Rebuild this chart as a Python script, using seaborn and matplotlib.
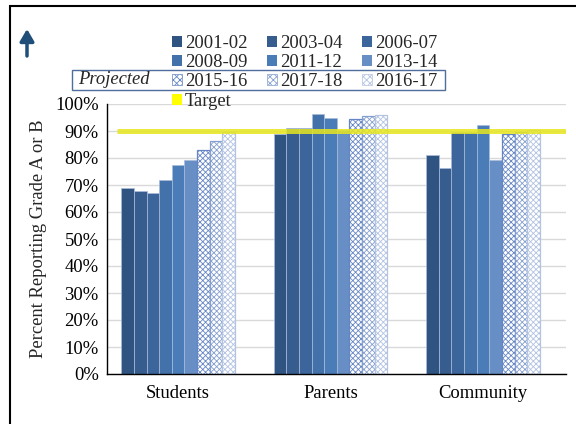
import matplotlib
matplotlib.use("Agg")
import matplotlib.pyplot as plt
from matplotlib.patches import Patch, Rectangle, FancyArrowPatch
from matplotlib.ticker import FuncFormatter, FixedLocator
import seaborn as sns
import pandas as pd

# Survey groups and school years
groups = ["Students", "Parents", "Community"]
years = ["2001-02", "2003-04", "2006-07", "2008-09", "2011-12", "2013-14",
         "2015-16", "2017-18", "2016-17"]
projected_years = ["2015-16", "2017-18", "2016-17"]

# Share reporting grade A or B, one list per year (Students, Parents, Community)
values = {
    "2001-02": [0.688, 0.888, 0.810],
    "2003-04": [0.677, 0.910, 0.762],
    "2006-07": [0.671, 0.910, 0.897],
    "2008-09": [0.719, 0.962, 0.897],
    "2011-12": [0.774, 0.949, 0.921],
    "2013-14": [0.791, 0.903, 0.793],
    "2015-16": [0.828, 0.946, 0.889],
    "2017-18": [0.862, 0.954, 0.897],
    "2016-17": [0.895, 0.959, 0.905],
}
target = 0.90

solid_colors = ["#2F5481", "#375D8F", "#3C659C", "#4371AA", "#4A7CB8", "#678EC5"]
projected_edges = ["#6585C4", "#859FCF", "#B3C3E2"]

rows = [(g, y, values[y][i]) for y in years for i, g in enumerate(groups)]
df = pd.DataFrame(rows, columns=["group", "year", "value"])

sns.set_theme(style="white")
plt.rcParams["font.family"] = ["Liberation Serif", "DejaVu Serif"]
plt.rcParams["hatch.linewidth"] = 0.6
FS = 13.4

fig = plt.figure(figsize=(5.76, 4.24), dpi=100)
ax = fig.add_axes([107 / 576, 1 - 374 / 424, (566 - 107) / 576, (374 - 104) / 424])

palette = solid_colors + ["white"] * 3
sns.barplot(data=df, x="group", y="value", hue="year", order=groups,
            hue_order=years, palette=palette, width=0.745, dodge=True,
            saturation=1, legend=False, ax=ax, zorder=2)

# Style the bars: thin light separators, checkered fill for projections
for k, cont in enumerate(ax.containers):
    for bar in cont:
        if k < 6:
            bar.set_edgecolor("#A9BCDB")
            bar.set_linewidth(0.5)
        else:
            bar.set_facecolor("white")
            bar.set_edgecolor(projected_edges[k - 6])
            bar.set_hatch("xxxxxx")
            bar.set_linewidth(0.9)

# Target line
ax.plot([-0.40, 2.544], [target, target], color="#E6E61E", lw=3.6,
        alpha=0.85, zorder=4, solid_capstyle="butt")

ax.set_xlim(-0.466, 2.544)
ax.set_ylim(0, 1.0)
ax.set_yticks([i / 10 for i in range(11)])
ax.yaxis.set_major_formatter(FuncFormatter(lambda v, _: f"{v:.0%}"))
ax.grid(axis="y", color="#D9D9D9", lw=1, zorder=0)
ax.set_axisbelow(True)
ax.tick_params(axis="y", length=0, labelsize=FS, pad=6, colors="black")
ax.tick_params(axis="x", which="major", length=0, labelsize=FS, pad=8,
               colors="black")
ax.xaxis.set_minor_locator(FixedLocator([-0.466, 0.534, 1.536, 2.544]))
ax.tick_params(axis="x", which="minor", length=6, width=1, color="black",
               direction="out")
ax.set_xlabel("")
ax.set_ylabel("Percent Reporting Grade A or B", fontsize=FS, labelpad=6)
for side in ["top", "right"]:
    ax.spines[side].set_visible(False)
for side in ["left", "bottom"]:
    ax.spines[side].set_color("black")
    ax.spines[side].set_linewidth(1)

# Legend
handles = []
for k, y in enumerate(years):
    if k < 6:
        handles.append(Patch(facecolor=solid_colors[k], edgecolor="none"))
    else:
        handles.append(Patch(facecolor="white", edgecolor=projected_edges[k - 6],
                             hatch="xxxxx", lw=0.5))
handles.append(Patch(facecolor="#FFFF00", edgecolor="none"))
labels = years + ["Target"]
# order entries so they read across rows in three columns
order = [0, 3, 6, 9, 1, 4, 7, 2, 5, 8]
fig.legend([handles[i] for i in order], [labels[i] for i in order], ncol=3,
           loc="upper left", bbox_to_anchor=(172 / 576, 1 - 35 / 424),
           bbox_transform=fig.transFigure, frameon=False, fontsize=FS,
           handlelength=0.55, handleheight=0.55, handletextpad=0.15,
           columnspacing=1.05, labelspacing=0.12, borderpad=0,
           borderaxespad=0)

# Box marking the projected years
fig.add_artist(Rectangle((72 / 576, 1 - 90 / 424), (445 - 72) / 576, 20 / 424,
                         transform=fig.transFigure, fill=False,
                         edgecolor="#4F6E9E", lw=1))
fig.text(78 / 576, 1 - 80 / 424, "Projected", style="italic", fontsize=FS,
         va="center", ha="left")

# Direction arrow
fig.add_artist(FancyArrowPatch(
    (27 / 576, 1 - 56 / 424), (27 / 576, 1 - 29 / 424),
    transform=fig.transFigure, arrowstyle="-|>,head_length=0.6,head_width=0.35",
    mutation_scale=12, color="#1F4E79", lw=2.5, shrinkA=0, shrinkB=0))

# Outer frame
fig.add_artist(Rectangle((10 / 576, -0.1), 1.2, 1.1 - 6 / 424,
                         transform=fig.transFigure, fill=False,
                         edgecolor="black", lw=1.5))

fig.savefig("out.png", dpi=100)
